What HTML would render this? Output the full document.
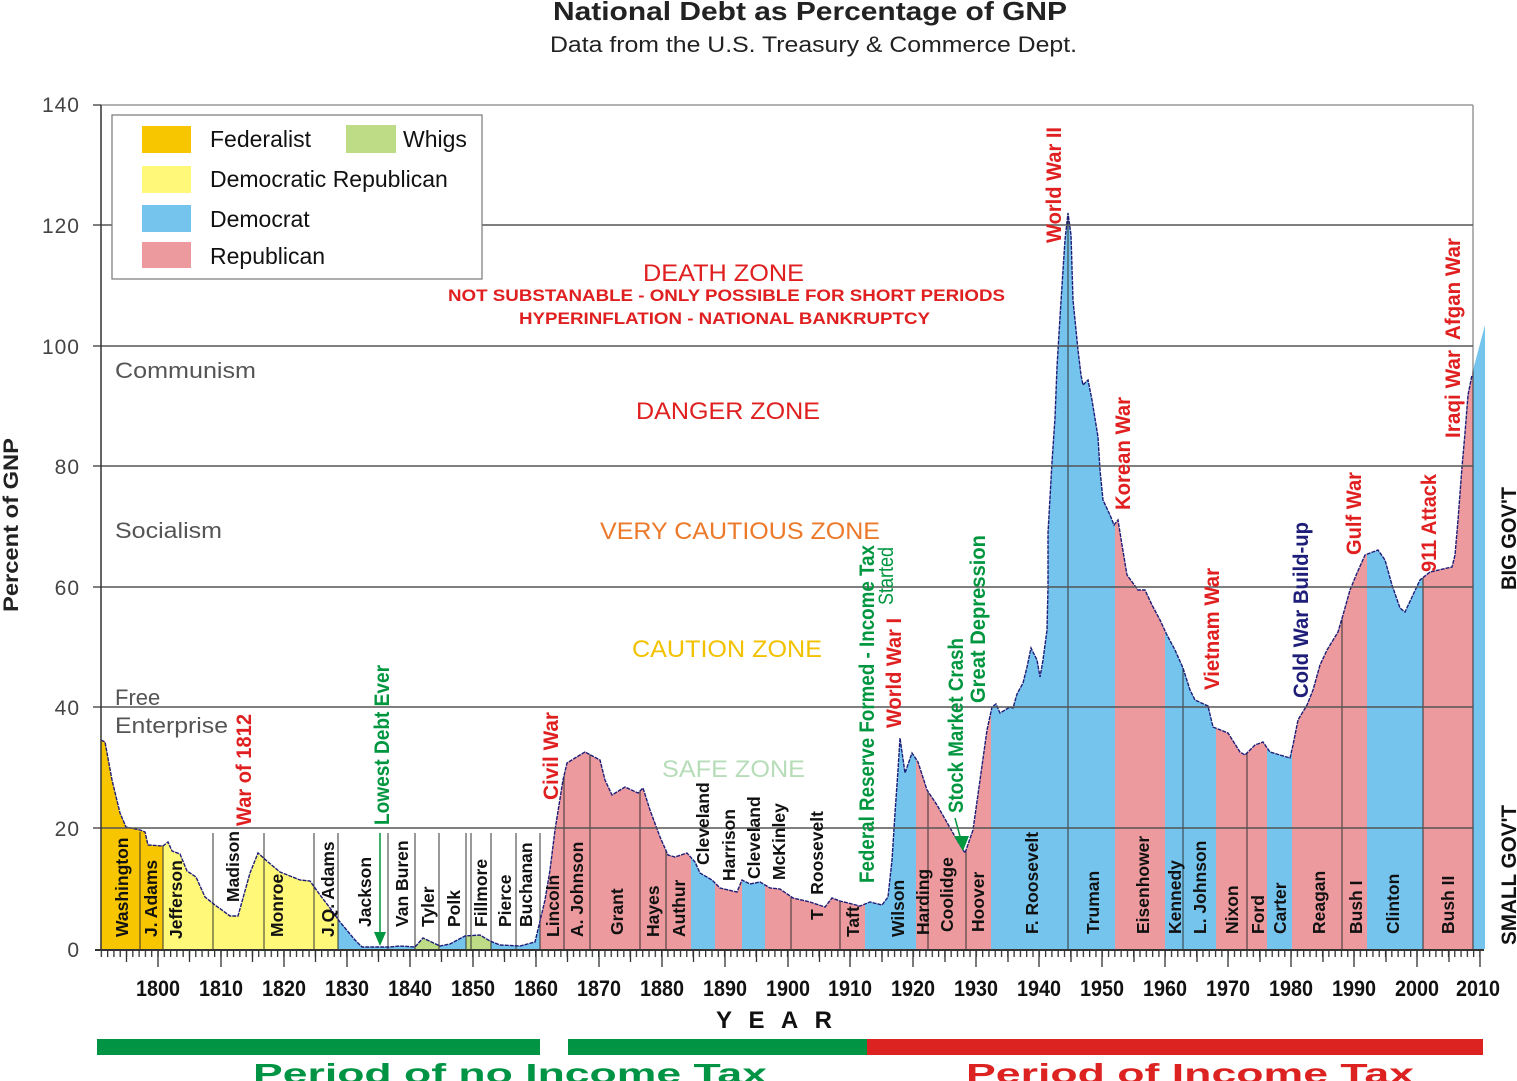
<!DOCTYPE html>
<html><head><meta charset="utf-8"><style>html,body{margin:0;padding:0;background:#fff}svg{display:block}</style></head>
<body>
<svg width="1517" height="1081" viewBox="0 0 1517 1081" xmlns="http://www.w3.org/2000/svg" font-family="Liberation Sans, sans-serif">
<defs>
<clipPath id="area"><path id="ap" d="M101,949 L101,740 105,742 112,780 120,813 126,827 140,830 145,832 148,845 163,846 168,842 172,851 180,854 187,871 196,877 205,897 215,905 230,916 238,916 250,873 258,853 268,862 280,872 300,880 310,881 320,895 330,908 340,922 355,940 362,947 390,947 400,946 415,947 423,938 440,946 450,944 465,936 480,935 490,941 500,945 520,946 535,942 545,900 550,870 555,830 563,780 567,763 575,758 585,752 600,760 605,780 612,795 625,787 638,793 643,788 650,810 660,837 668,855 675,857 687,853 695,862 700,873 712,880 720,888 737,892 742,880 750,884 760,882 770,888 780,889 793,898 810,902 825,907 832,898 840,901 860,906 870,902 882,905 888,897 892,860 895,813 898,770 900,738 905,773 912,753 918,762 927,790 937,805 957,840 965,853 973,830 980,780 987,730 992,707 996,704 1000,713 1010,707 1013,708 1017,694 1023,683 1027,667 1031,648 1037,660 1040,677 1043,660 1047,630 1048,587 1048,533 1052,462 1055,418 1057,367 1060,317 1063,270 1065,240 1068,213 1071,235 1073,300 1078,350 1081,375 1083,385 1088,380 1092,400 1098,437 1100,470 1103,500 1110,515 1114,525 1118,520 1122,545 1127,575 1138,590 1145,590 1152,605 1160,620 1167,635 1175,650 1183,668 1190,690 1195,700 1208,706 1213,727 1228,733 1240,752 1245,755 1255,745 1263,742 1270,752 1280,755 1290,758 1293,745 1298,720 1307,705 1313,690 1320,665 1327,650 1338,632 1343,615 1350,590 1357,573 1365,555 1378,550 1385,560 1392,585 1400,608 1405,612 1412,597 1420,580 1430,572 1452,567 1455,555 1458,520 1462,467 1465,433 1468,395 1472,375 1473,370 1485,325 1485,949 Z"/></clipPath>
<pattern id="tk" patternUnits="userSpaceOnUse" x="157.35" y="950" width="6.295" height="8"><rect x="0" y="0" width="1.3" height="8" fill="#333"/></pattern>
</defs>

<text x="553" y="20" font-size="26" font-weight="bold" fill="#222" textLength="514" lengthAdjust="spacingAndGlyphs">National Debt as Percentage of GNP</text>
<text x="550" y="52" font-size="22" fill="#222" textLength="527" lengthAdjust="spacingAndGlyphs">Data from the U.S. Treasury &amp; Commerce Dept.</text>

<line x1="101" y1="105" x2="1473" y2="105" stroke="#999" stroke-width="1.5"/>
<line x1="1473" y1="105" x2="1473" y2="949" stroke="#999" stroke-width="1.5"/>

<g clip-path="url(#area)">
<rect x="101" y="100" width="62" height="850" fill="#f7c600"/>
<rect x="163" y="100" width="175" height="850" fill="#fff878"/>
<rect x="338" y="100" width="77" height="850" fill="#74c4ee"/>
<rect x="415" y="100" width="25" height="850" fill="#bddc85"/>
<rect x="440" y="100" width="26" height="850" fill="#74c4ee"/>
<rect x="466" y="100" width="25" height="850" fill="#bddc85"/>
<rect x="491" y="100" width="49" height="850" fill="#74c4ee"/>
<rect x="540" y="100" width="151" height="850" fill="#ec9a9e"/>
<rect x="691" y="100" width="24" height="850" fill="#74c4ee"/>
<rect x="715" y="100" width="27" height="850" fill="#ec9a9e"/>
<rect x="742" y="100" width="23" height="850" fill="#74c4ee"/>
<rect x="765" y="100" width="100" height="850" fill="#ec9a9e"/>
<rect x="865" y="100" width="51" height="850" fill="#74c4ee"/>
<rect x="916" y="100" width="75" height="850" fill="#ec9a9e"/>
<rect x="991" y="100" width="124" height="850" fill="#74c4ee"/>
<rect x="1115" y="100" width="50" height="850" fill="#ec9a9e"/>
<rect x="1165" y="100" width="51" height="850" fill="#74c4ee"/>
<rect x="1216" y="100" width="51" height="850" fill="#ec9a9e"/>
<rect x="1267" y="100" width="25" height="850" fill="#74c4ee"/>
<rect x="1292" y="100" width="75" height="850" fill="#ec9a9e"/>
<rect x="1367" y="100" width="56" height="850" fill="#74c4ee"/>
<rect x="1423" y="100" width="50" height="850" fill="#ec9a9e"/>
<rect x="1473" y="100" width="13" height="850" fill="#74c4ee"/>
<g stroke="#333" stroke-width="1">
<line x1="564" y1="100" x2="564" y2="949"/><line x1="590" y1="100" x2="590" y2="949"/><line x1="640" y1="100" x2="640" y2="949"/><line x1="666" y1="100" x2="666" y2="949"/><line x1="791" y1="100" x2="791" y2="949"/><line x1="840" y1="100" x2="840" y2="949"/><line x1="928" y1="100" x2="928" y2="949"/><line x1="966" y1="100" x2="966" y2="949"/><line x1="1068" y1="100" x2="1068" y2="949"/><line x1="1183" y1="100" x2="1183" y2="949"/><line x1="1247" y1="100" x2="1247" y2="949"/><line x1="1342" y1="100" x2="1342" y2="949"/><line x1="1423" y1="100" x2="1423" y2="949"/><line x1="1473" y1="100" x2="1473" y2="949"/>
</g>
</g>
<g stroke="#333" stroke-width="1">
<line x1="140" y1="832" x2="140" y2="949"/><line x1="163" y1="845" x2="163" y2="949"/><line x1="213" y1="833" x2="213" y2="949"/><line x1="264" y1="833" x2="264" y2="949"/><line x1="314" y1="833" x2="314" y2="949"/><line x1="338" y1="833" x2="338" y2="949"/><line x1="388" y1="833" x2="388" y2="949"/><line x1="415" y1="833" x2="415" y2="949"/><line x1="439" y1="833" x2="439" y2="949"/><line x1="466" y1="833" x2="466" y2="949"/><line x1="471" y1="833" x2="471" y2="949"/><line x1="491" y1="833" x2="491" y2="949"/><line x1="516" y1="833" x2="516" y2="949"/><line x1="540" y1="833" x2="540" y2="949"/>
</g>

<path d="M101,740 L105,742 112,780 120,813 126,827 140,830 145,832 148,845 163,846 168,842 172,851 180,854 187,871 196,877 205,897 215,905 230,916 238,916 250,873 258,853 268,862 280,872 300,880 310,881 320,895 330,908 340,922 355,940 362,947 390,947 400,946 415,947 423,938 440,946 450,944 465,936 480,935 490,941 500,945 520,946 535,942 545,900 550,870 555,830 563,780 567,763 575,758 585,752 600,760 605,780 612,795 625,787 638,793 643,788 650,810 660,837 668,855 675,857 687,853 695,862 700,873 712,880 720,888 737,892 742,880 750,884 760,882 770,888 780,889 793,898 810,902 825,907 832,898 840,901 860,906 870,902 882,905 888,897 892,860 895,813 898,770 900,738 905,773 912,753 918,762 927,790 937,805 957,840 965,853 973,830 980,780 987,730 992,707 996,704 1000,713 1010,707 1013,708 1017,694 1023,683 1027,667 1031,648 1037,660 1040,677 1043,660 1047,630 1048,587 1048,533 1052,462 1055,418 1057,367 1060,317 1063,270 1065,240 1068,213 1071,235 1073,300 1078,350 1081,375 1083,385 1088,380 1092,400 1098,437 1100,470 1103,500 1110,515 1114,525 1118,520 1122,545 1127,575 1138,590 1145,590 1152,605 1160,620 1167,635 1175,650 1183,668 1190,690 1195,700 1208,706 1213,727 1228,733 1240,752 1245,755 1255,745 1263,742 1270,752 1280,755 1290,758 1293,745 1298,720 1307,705 1313,690 1320,665 1327,650 1338,632 1343,615 1350,590 1357,573 1365,555 1378,550 1385,560 1392,585 1400,608 1405,612 1412,597 1420,580 1430,572 1452,567 1455,555 1458,520 1462,467 1465,433 1468,395 1472,375" fill="none" stroke="#1e1e78" stroke-width="1.4" stroke-dasharray="4,1"/>

<g stroke="#555" stroke-width="1.5">
<line x1="93" y1="828" x2="1473" y2="828"/><line x1="93" y1="707" x2="1473" y2="707"/><line x1="93" y1="587" x2="1473" y2="587"/><line x1="93" y1="466" x2="1473" y2="466"/><line x1="93" y1="346" x2="1473" y2="346"/><line x1="93" y1="225" x2="1473" y2="225"/><line x1="93" y1="105" x2="101" y2="105"/>
<line x1="101" y1="105" x2="101" y2="950" stroke="#333"/>
<line x1="95" y1="950" x2="1484" y2="950" stroke="#333" stroke-width="2"/>
</g>

<g font-size="21" fill="#444" text-anchor="end">
<text x="80" y="112" letter-spacing="1">140</text><text x="80" y="233" letter-spacing="1">120</text><text x="80" y="354" letter-spacing="1">100</text><text x="80" y="474" letter-spacing="1">80</text><text x="80" y="595" letter-spacing="1">60</text><text x="80" y="715" letter-spacing="1">40</text><text x="80" y="836" letter-spacing="1">20</text><text x="80" y="957" letter-spacing="1">0</text>
</g>

<!-- x ticks -->
<rect x="100" y="950" width="1380" height="7" fill="url(#tk)"/>
<g stroke="#333" stroke-width="1.3">
<path d="M158,950v17M221,950v17M284,950v17M347,950v17M410,950v17M473,950v17M536,950v17M599,950v17M662,950v17M725,950v17M788,950v17M850,950v17M913,950v17M976,950v17M1039,950v17M1102,950v17M1165,950v17M1228,950v17M1291,950v17M1354,950v17M1417,950v17M1480,950v17"/>
<path d="M126.5,950v12M189.5,950v12M252.5,950v12M315.5,950v12M378.5,950v12M441.5,950v12M504.5,950v12M567.5,950v12M630.5,950v12M693.5,950v12M756.5,950v12M819.5,950v12M882,950v12M945,950v12M1008,950v12M1071,950v12M1134,950v12M1197,950v12M1260,950v12M1323,950v12M1386,950v12M1449,950v12"/>
</g>
<g font-size="22" font-weight="bold" fill="#111" text-anchor="middle">
<text x="158" y="996" textLength="44" lengthAdjust="spacingAndGlyphs">1800</text><text x="221" y="996" textLength="44" lengthAdjust="spacingAndGlyphs">1810</text><text x="284" y="996" textLength="44" lengthAdjust="spacingAndGlyphs">1820</text><text x="347" y="996" textLength="44" lengthAdjust="spacingAndGlyphs">1830</text><text x="410" y="996" textLength="44" lengthAdjust="spacingAndGlyphs">1840</text><text x="473" y="996" textLength="44" lengthAdjust="spacingAndGlyphs">1850</text><text x="536" y="996" textLength="44" lengthAdjust="spacingAndGlyphs">1860</text><text x="599" y="996" textLength="44" lengthAdjust="spacingAndGlyphs">1870</text><text x="662" y="996" textLength="44" lengthAdjust="spacingAndGlyphs">1880</text><text x="725" y="996" textLength="44" lengthAdjust="spacingAndGlyphs">1890</text><text x="788" y="996" textLength="44" lengthAdjust="spacingAndGlyphs">1900</text><text x="850" y="996" textLength="44" lengthAdjust="spacingAndGlyphs">1910</text><text x="913" y="996" textLength="44" lengthAdjust="spacingAndGlyphs">1920</text><text x="976" y="996" textLength="44" lengthAdjust="spacingAndGlyphs">1930</text><text x="1039" y="996" textLength="44" lengthAdjust="spacingAndGlyphs">1940</text><text x="1102" y="996" textLength="44" lengthAdjust="spacingAndGlyphs">1950</text><text x="1165" y="996" textLength="44" lengthAdjust="spacingAndGlyphs">1960</text><text x="1228" y="996" textLength="44" lengthAdjust="spacingAndGlyphs">1970</text><text x="1291" y="996" textLength="44" lengthAdjust="spacingAndGlyphs">1980</text><text x="1354" y="996" textLength="44" lengthAdjust="spacingAndGlyphs">1990</text><text x="1417" y="996" textLength="44" lengthAdjust="spacingAndGlyphs">2000</text><text x="1478" y="996" textLength="44" lengthAdjust="spacingAndGlyphs">2010</text>
</g>

<rect x="112" y="115" width="370" height="164" fill="#fff" stroke="#777" stroke-width="1.2"/>
<rect x="142" y="126" width="49" height="27" fill="#f7c600"/>
<rect x="346" y="125" width="50" height="28" fill="#bddc85"/>
<rect x="142" y="166" width="49" height="27" fill="#fff878"/>
<rect x="142" y="205" width="49" height="27" fill="#74c4ee"/>
<rect x="142" y="242" width="49" height="26" fill="#ec9a9e"/>
<g font-size="23" fill="#111">
<text x="210" y="147">Federalist</text><text x="403" y="147">Whigs</text><text x="210" y="187">Democratic Republican</text><text x="210" y="227">Democrat</text><text x="210" y="264">Republican</text>
</g>

<text x="643" y="281" font-size="24" fill="#e02020" textLength="161" lengthAdjust="spacingAndGlyphs">DEATH ZONE</text>
<text x="448" y="301" font-size="17" font-weight="bold" fill="#e02020" textLength="557" lengthAdjust="spacingAndGlyphs">NOT SUBSTANABLE - ONLY POSSIBLE FOR SHORT PERIODS</text>
<text x="519" y="324" font-size="17" font-weight="bold" fill="#e02020" textLength="411" lengthAdjust="spacingAndGlyphs">HYPERINFLATION - NATIONAL BANKRUPTCY</text>
<text x="636" y="419" font-size="24" fill="#e02020" textLength="184" lengthAdjust="spacingAndGlyphs">DANGER ZONE</text>
<text x="600" y="539" font-size="24" fill="#ec7a2a" textLength="280" lengthAdjust="spacingAndGlyphs">VERY CAUTIOUS ZONE</text>
<text x="632" y="657" font-size="24" fill="#f2c200" textLength="190" lengthAdjust="spacingAndGlyphs">CAUTION ZONE</text>
<text x="662" y="777" font-size="24" fill="#b6ddb8" textLength="143" lengthAdjust="spacingAndGlyphs">SAFE ZONE</text>
<g font-size="22" fill="#555">
<text x="115" y="378" textLength="141" lengthAdjust="spacingAndGlyphs">Communism</text>
<text x="115" y="538" textLength="107" lengthAdjust="spacingAndGlyphs">Socialism</text>
<text x="115" y="705">Free</text>
<text x="115" y="733" textLength="113" lengthAdjust="spacingAndGlyphs">Enterprise</text>
</g>

<g font-size="17.5" font-weight="bold" fill="#111">
<text transform="translate(128,937) rotate(-90)">Washington</text>
<text transform="translate(157,937) rotate(-90)">J. Adams</text>
<text transform="translate(182,939) rotate(-90)">Jefferson</text>
<text transform="translate(239,902) rotate(-90)">Madison</text>
<text transform="translate(283,937) rotate(-90)">Monroe</text>
<text transform="translate(334,937) rotate(-90)">J.Q. Adams</text>
<text transform="translate(371,927) rotate(-90)">Jackson</text>
<text transform="translate(408,927) rotate(-90)">Van Buren</text>
<text transform="translate(434,927) rotate(-90)">Tyler</text>
<text transform="translate(460,927) rotate(-90)">Polk</text>
<text transform="translate(487,927) rotate(-90)">Fillmore</text>
<text transform="translate(511,927) rotate(-90)">Pierce</text>
<text transform="translate(532,927) rotate(-90)">Buchanan</text>
<text transform="translate(559,937) rotate(-90)">Lincoln</text>
<text transform="translate(583,937) rotate(-90)">A. Johnson</text>
<text transform="translate(623,935) rotate(-90)">Grant</text>
<text transform="translate(659,937) rotate(-90)">Hayes</text>
<text transform="translate(685,937) rotate(-90)">Authur</text>
<text transform="translate(709,865) rotate(-90)">Cleveland</text>
<text transform="translate(735,881) rotate(-90)">Harrison</text>
<text transform="translate(760,879) rotate(-90)">Cleveland</text>
<text transform="translate(785,880) rotate(-90)">McKinley</text>
<text transform="translate(823,920) rotate(-90)" xml:space="preserve">T   Roosevelt</text>
<text transform="translate(859,937) rotate(-90)">Taft</text>
<text transform="translate(904,937) rotate(-90)">Wilson</text>
<text transform="translate(929,935) rotate(-90)">Harding</text>
<text transform="translate(953,932) rotate(-90)">Coolidge</text>
<text transform="translate(984,932) rotate(-90)">Hoover</text>
<text transform="translate(1038,934) rotate(-90)">F. Roosevelt</text>
<text transform="translate(1099,934) rotate(-90)">Truman</text>
<text transform="translate(1149,934) rotate(-90)">Eisenhower</text>
<text transform="translate(1181,934) rotate(-90)">Kennedy</text>
<text transform="translate(1206,934) rotate(-90)">L. Johnson</text>
<text transform="translate(1238,934) rotate(-90)">Nixon</text>
<text transform="translate(1264,934) rotate(-90)">Ford</text>
<text transform="translate(1286,934) rotate(-90)">Carter</text>
<text transform="translate(1325,934) rotate(-90)">Reagan</text>
<text transform="translate(1362,934) rotate(-90)">Bush I</text>
<text transform="translate(1399,934) rotate(-90)">Clinton</text>
<text transform="translate(1454,934) rotate(-90)">Bush II</text>
</g>

<g font-size="21" font-weight="bold">
<text transform="translate(251,826) rotate(-90)" fill="#e02020" textLength="112" lengthAdjust="spacingAndGlyphs">War of 1812</text>
<text transform="translate(389,825) rotate(-90)" fill="#00963f" textLength="160" lengthAdjust="spacingAndGlyphs">Lowest Debt Ever</text>
<text transform="translate(558,800) rotate(-90)" fill="#e02020" textLength="88" lengthAdjust="spacingAndGlyphs">Civil War</text>
<text transform="translate(874,883) rotate(-90)" fill="#00963f" textLength="338" lengthAdjust="spacingAndGlyphs">Federal Reserve Formed - Income Tax</text>
<text transform="translate(893,605) rotate(-90)" fill="#00963f" font-weight="normal" textLength="58" lengthAdjust="spacingAndGlyphs">Started</text>
<text transform="translate(901,728) rotate(-90)" fill="#e02020" textLength="110" lengthAdjust="spacingAndGlyphs">World War I</text>
<text transform="translate(963,813) rotate(-90)" fill="#00963f" textLength="175" lengthAdjust="spacingAndGlyphs">Stock Market Crash</text>
<text transform="translate(985,703) rotate(-90)" fill="#00963f" textLength="168" lengthAdjust="spacingAndGlyphs">Great Depression</text>
<text transform="translate(1061,243) rotate(-90)" fill="#e02020" textLength="116" lengthAdjust="spacingAndGlyphs">World War II</text>
<text transform="translate(1130,510) rotate(-90)" fill="#e02020" textLength="113" lengthAdjust="spacingAndGlyphs">Korean War</text>
<text transform="translate(1219,690) rotate(-90)" fill="#e02020" textLength="122" lengthAdjust="spacingAndGlyphs">Vietnam War</text>
<text transform="translate(1308,698) rotate(-90)" fill="#1e1e78" textLength="176" lengthAdjust="spacingAndGlyphs">Cold War Build-up</text>
<text transform="translate(1361,555) rotate(-90)" fill="#e02020" textLength="83" lengthAdjust="spacingAndGlyphs">Gulf War</text>
<text transform="translate(1436,572) rotate(-90)" fill="#e02020" textLength="98" lengthAdjust="spacingAndGlyphs">911 Attack</text>
<text transform="translate(1460,438) rotate(-90)" fill="#e02020" textLength="88" lengthAdjust="spacingAndGlyphs">Iraqi War</text>
<text transform="translate(1460,340) rotate(-90)" fill="#e02020" textLength="102" lengthAdjust="spacingAndGlyphs">Afgan War</text>
<text transform="translate(1516,590) rotate(-90)" fill="#111" textLength="103" lengthAdjust="spacingAndGlyphs">BIG GOV'T</text>
<text transform="translate(1516,945) rotate(-90)" fill="#111" textLength="140" lengthAdjust="spacingAndGlyphs">SMALL GOV'T</text>
<text transform="translate(18,612) rotate(-90)" fill="#222" textLength="174" lengthAdjust="spacingAndGlyphs">Percent of GNP</text>
</g>
<line x1="380" y1="833" x2="380" y2="935" stroke="#00963f" stroke-width="1.5"/>
<polygon points="374,932 386,932 380,946" fill="#00963f"/>
<line x1="955" y1="818" x2="961" y2="840" stroke="#00963f" stroke-width="1.5"/>
<polygon points="954,836 969,836 963,851" fill="#00963f"/>

<text x="716" y="1028" font-size="24" font-weight="bold" fill="#111" textLength="116" lengthAdjust="spacing">YEAR</text>
<rect x="97" y="1039" width="443" height="16" fill="#009444"/>
<rect x="568" y="1039" width="299" height="16" fill="#009444"/>
<rect x="867" y="1039" width="616" height="16" fill="#dd2222"/>
<text x="253" y="1083" font-size="28" font-weight="bold" fill="#009444" textLength="514" lengthAdjust="spacingAndGlyphs">Period of no Income Tax</text>
<text x="966" y="1083" font-size="28" font-weight="bold" fill="#dd2222" textLength="448" lengthAdjust="spacingAndGlyphs">Period of Income Tax</text>
</svg>
</body></html>
